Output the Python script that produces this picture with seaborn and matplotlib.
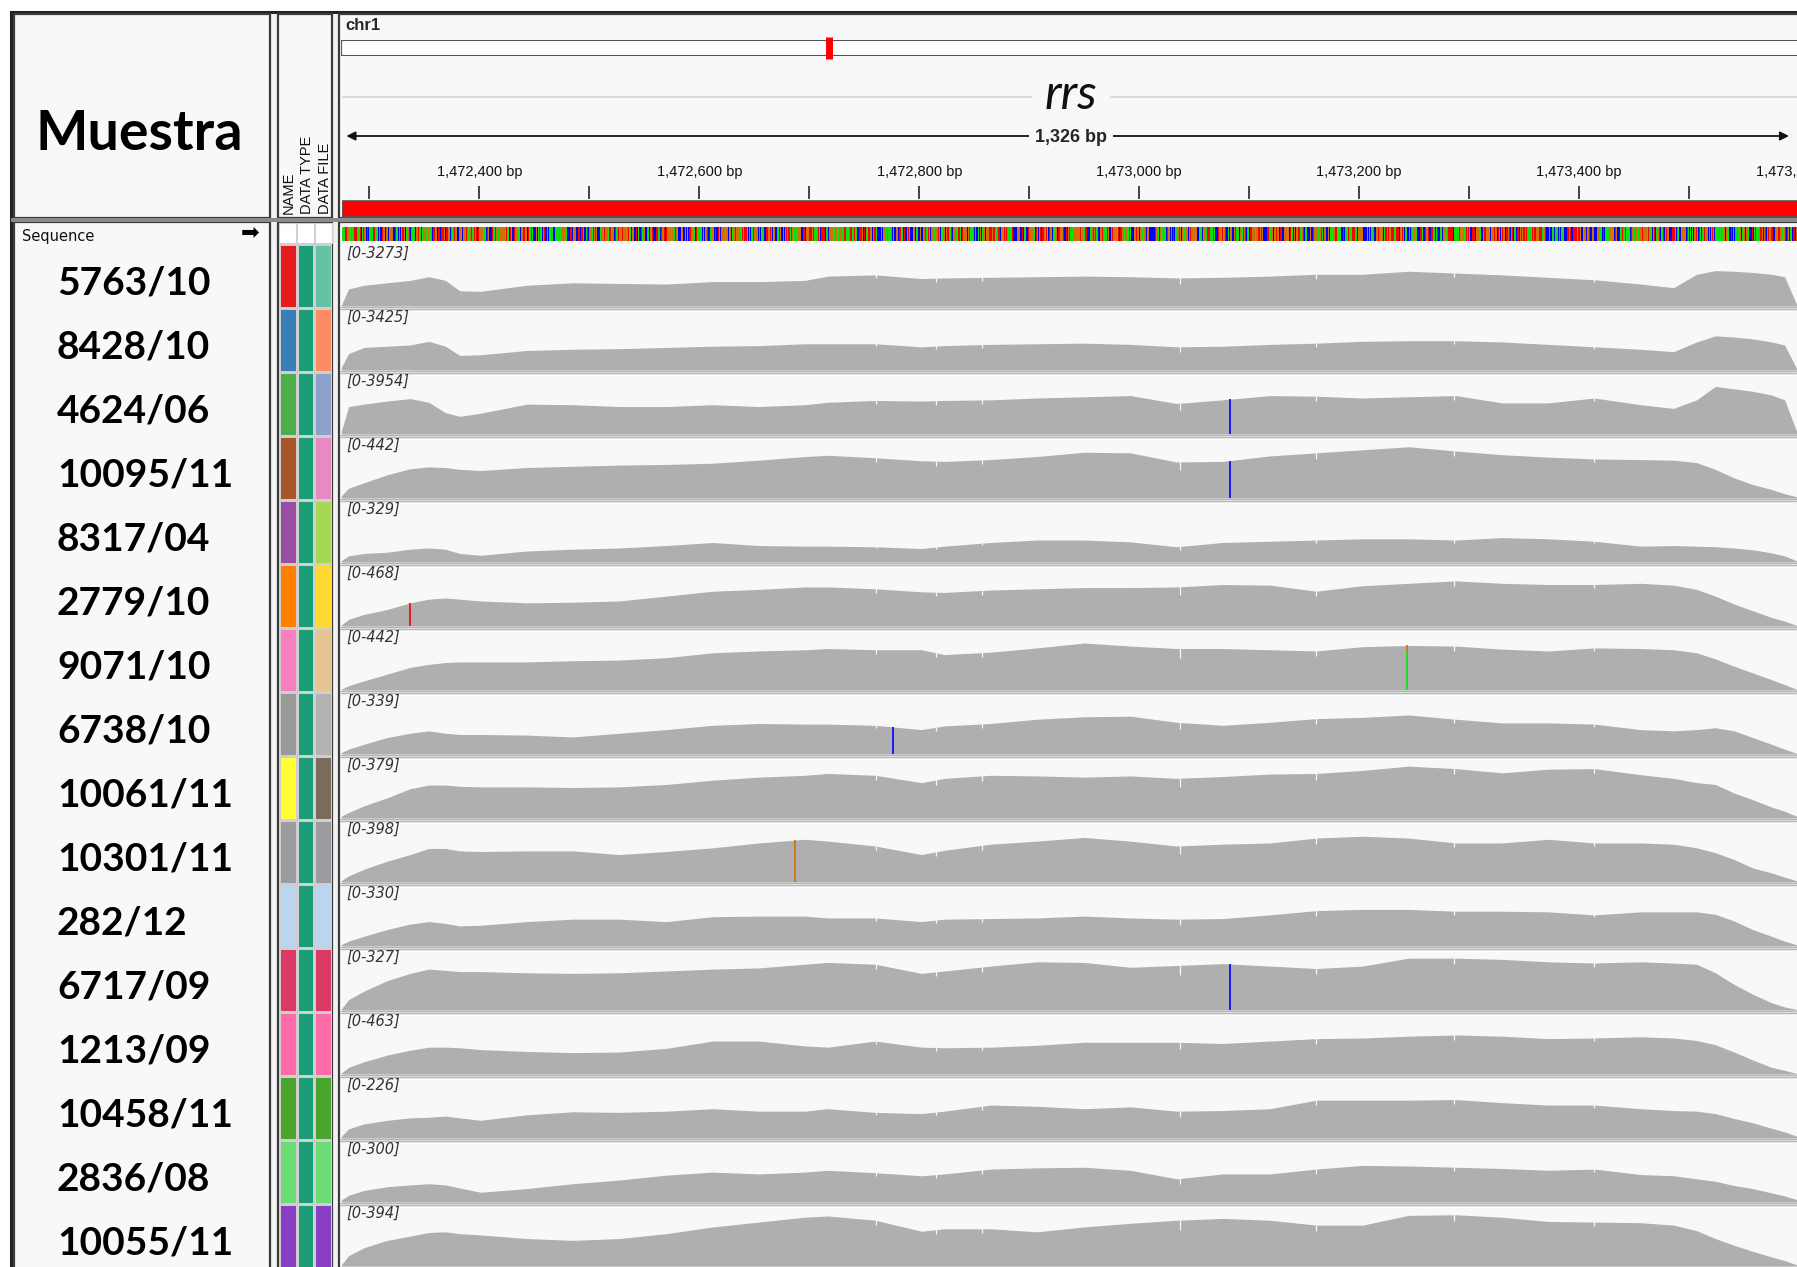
import numpy as np
import pandas as pd
import matplotlib
matplotlib.use("Agg")
import matplotlib.pyplot as plt
import seaborn as sns
from matplotlib.colors import ListedColormap
from matplotlib.patches import Rectangle

# ---------------- data ----------------
samples = ["5763/10", "8428/10", "4624/06", "10095/11", "8317/04", "2779/10",
           "9071/10", "6738/10", "10061/11", "10301/11", "282/12", "6717/09",
           "1213/09", "10458/11", "2836/08", "10055/11"]
data_ranges = [3273, 3425, 3954, 442, 329, 468, 442, 339, 379, 398, 330, 327,
               463, 226, 300, 394]
name_colors = ["#e41a1c", "#377eb8", "#4daf4a", "#a65628", "#984ea3", "#ff7f00",
               "#f781bf", "#999999", "#ffff33", "#9a9c9f", "#bcd5ee", "#dc3a66",
               "#ff6aa8", "#4aa32b", "#6bdc76", "#893fc4"]
type_colors = ["#1b9e77"] * 16
file_colors = ["#66c2a5", "#fc8d62", "#8da0cb", "#e78ac3", "#a6d854", "#ffd92f",
               "#e5c494", "#b3b3b3", "#7c6b5b", "#9a9c9f", "#bcd5ee", "#dc3a66",
               "#ff6aa8", "#4aa32b", "#6bdc76", "#893fc4"]

chrom = "chr1"
chrom_length = 4411532
view_start, view_end = 1472275, 1473601
gene_name = "rrs"
ruler_ticks = [1472300, 1472400, 1472500, 1472600, 1472700, 1472800, 1472900,
               1473000, 1473100, 1473200, 1473300, 1473400, 1473500]
ruler_labels = [1472400, 1472600, 1472800, 1473000, 1473200, 1473400, 1473600]

cov_bp = [1472274, 1472281, 1472295, 1472316, 1472337, 1472354, 1472369, 1472382,
          1472401, 1472443, 1472485, 1472527, 1472570, 1472612, 1472654, 1472696,
          1472717, 1472760, 1472802, 1472823, 1472865, 1472907, 1472950, 1472992,
          1473034, 1473076, 1473119, 1473161, 1473203, 1473245, 1473288, 1473330,
          1473372, 1473414, 1473456, 1473486, 1473507, 1473524, 1473541, 1473558,
          1473575, 1473587, 1473598]
# coverage, % of the track's autoscale range
cov_t01 = [0,28,34,38,42,48,42,25,24,34,38,37,36,40,40,42,49,51,45,46,47,48,49,48,46,47,49,52,52,57,54,51,47,43,36,30,52,58,57,55,52,48,2]
cov_t02 = [3,27,37,39,41,47,39,24,25,32,34,35,37,39,40,43,43,43,38,40,42,43,44,42,38,39,42,44,47,48,48,46,42,38,34,30,46,56,54,51,46,41,2]
cov_t03 = [2,45,49,54,58,52,35,29,34,49,48,45,45,48,45,48,52,55,54,55,56,59,61,63,50,56,63,62,59,61,63,51,51,59,48,42,56,78,74,70,64,56,4]
cov_t04 = [3,16,25,38,48,51,50,47,45,50,52,54,55,57,62,68,70,66,61,60,63,68,75,74,59,60,69,74,79,84,77,71,67,64,63,62,58,47,33,22,14,7,2]
cov_t05 = [2,10,14,16,21,23,21,14,11,18,21,23,27,32,27,26,26,25,22,26,32,36,36,33,25,32,34,36,38,38,36,40,38,34,26,27,26,25,23,20,15,10,2]
cov_t06 = [1,11,19,27,38,44,46,44,41,38,39,41,49,57,60,64,64,61,56,55,59,61,63,63,64,68,67,57,66,70,74,70,68,68,70,67,60,49,36,25,14,8,1]
cov_t07 = [1,7,15,26,37,42,45,46,46,46,48,49,53,61,64,66,68,66,66,58,62,69,77,72,68,68,66,64,71,73,72,67,64,69,68,66,61,51,39,28,17,9,1]
cov_t08 = [2,8,16,27,34,38,34,32,32,31,28,34,40,47,50,49,49,47,40,46,50,57,61,62,52,47,52,58,60,64,57,51,51,49,40,38,40,43,38,27,16,8,1]
cov_t09 = [3,9,20,33,48,54,54,52,51,51,50,51,55,62,67,70,73,70,58,65,70,69,67,69,65,68,72,73,78,85,81,74,80,81,71,65,58,55,41,30,18,11,3]
cov_t10 = [2,10,21,34,45,55,55,51,50,51,51,45,50,56,64,70,67,59,45,52,62,67,73,67,59,62,64,72,75,72,64,64,70,64,64,62,56,48,37,23,15,8,2]
cov_t11 = [2,8,16,27,36,40,37,33,34,40,44,44,40,48,49,49,46,46,40,44,45,46,49,46,44,45,51,58,60,60,57,57,56,51,56,56,56,52,41,27,16,8,2]
cov_t12 = [1,17,31,48,60,67,65,63,63,61,60,61,64,67,69,75,78,75,60,64,72,79,78,70,73,76,72,68,72,85,85,83,79,77,79,77,75,61,42,26,12,5,1]
cov_t13 = [1,11,20,31,39,44,44,43,40,37,35,36,42,54,54,46,44,54,44,43,44,47,52,52,52,50,54,58,59,62,64,62,58,59,61,59,55,48,36,23,11,6,1]
cov_t14 = [2,15,23,29,33,34,36,33,29,38,43,42,44,48,44,44,48,42,40,44,54,52,48,51,44,45,48,62,62,62,63,58,54,54,48,45,44,40,32,25,16,10,3]
cov_t15 = [3,11,19,25,28,30,28,23,16,22,30,36,44,49,46,49,52,48,43,46,54,56,57,52,38,46,46,54,60,59,57,55,52,54,45,43,38,34,27,22,15,10,4]
cov_t16 = [1,17,30,42,49,55,56,53,51,45,42,45,53,64,72,80,82,75,57,61,61,56,64,70,75,78,75,67,67,83,84,80,73,72,71,67,58,45,34,24,15,9,2]
coverage_tracks = [cov_t01, cov_t02, cov_t03, cov_t04, cov_t05, cov_t06, cov_t07, cov_t08,
                   cov_t09, cov_t10, cov_t11, cov_t12, cov_t13, cov_t14, cov_t15, cov_t16]

# thin low-quality notches seen in most tracks
dip_bp = [1472761, 1472815, 1472857, 1473037, 1473161, 1473286, 1473414]
dip_depth = [0.10, 0.12, 0.12, 0.22, 0.14, 0.12, 0.08]

# mismatches (track index, position, base, fraction of that base)
variant_track = [2, 3, 5, 6, 7, 9, 11]
variant_bp = [1473083, 1473083, 1472337, 1473244, 1472776, 1472687, 1473083]
variant_base = ["C", "C", "T", "A", "C", "G", "C"]
variant_frac = [1.0, 1.0, 1.0, 0.85, 1.0, 1.0, 1.0]
variant_other = ["C", "C", "T", "G", "C", "G", "C"]

sequence = ("AAATTGAAGAGTTTGATCATGGCTCAGATTGAACGCTGGCGGCAGGCCTAACACATGCAAGTCGAACGGTAACAGGAAGAAGCTTGCTTCTTTGCTGACGAGTGGCGGACGGGTGAGTAATGTCTGGGAAACTGCCTGATGGAGGGGGATAACTACTGGAAACGGTAGCTAATACCGCATAACGTCGCAAGACCAAAGAGGGGGACCTTCGGGCCTCTTGCCATCGGATGTGCCCAGATGGGATTAGCTAGTAGGTGGGGTAACGGCTCACCTAGGCGACGATCCCTAGCTGGTCTGAGAGGATGACCAGCCACACTGGAACTGAGACACGGTCCAGACTCCTACGGGAGGCAGCAGTGGGGAATATTGCACAATGGGCGCAAGCCTGATGCAGCCATGCCGCGTGTATGAAGAAGGCCTTCGGGTTGTAAAGTACTTTCAGCGGGGAGGAAGGGAGTAAAGTTAATACCTTTGCTCATTGACGTTACCCGCAGAAGAAGCACCGGCTAACTCCGTGCCAGCAGCCGCGGTAATACGGAGGGTGCAAGCGTTAATCGGAATTACTGGGCGTAAAGCGCACGCAGGCGGTTTGTTAAGTCAGATGTGAAATCCCCGGGCTCAACCTGGGAACTGCATCTGATACTGGCAAGCTTGAGTCTCGTAGAGGGGGGTAGAATTCCAGGTGTAGCGGTGAAATGCGTAGAGATCTGGAGGAATACCGGTGGCGAAGGCGGCCCCCTGGACGAAGACTGACGCTCAGGTGCGAAAGCGTGGGGAGCAAACAGGATTAGATACCCTGGTAGTCCACGCCGTAAACGATGTCGACTTGGAGGTTGTGCCCTTGAGGCGTGGCTTCCGGAGCTAACGCGTTAAGTCGACCGCCTGGGGAGTACGGCCGCAAGGTTAAAACTCAAATGAATTGACGGGGGCCCGCACAAGCGGTGGAGCATGTGGTTTAATTCGATGCAACGCGAAGAACCTTACCTGGTCTTGACATCCACGGAAGTTTTCAGAGATGAGAATGTGCCTTCGGGAACCGTGAGACAGGTGCTGCATGGCTGTCGTCAGCTCGTGTTGTGAAATGTTGGGTTAAGTCCCGCAACGAGCGCAACCCTTATCCTTTGTTGCCAGCGGTCCGGCCGGGAACTCAAAGGAGACTGCCAGTGATAAACTGGAGGAAGGTGGGGATGACGTCAAGTCATCATGGCCCTTACGACCAGGGCTACACACGTGCTACAATGGCGCATACAAAGAGAAGCGACCTCGCGAGAGCAAGCGGACCTCATAAAGTGCGTCGTAGTCCGGATTGGAGTCTGCAACTCGACTCCATGAAGTCGGAATCGCTAGTAATCGTGGATCAGAATGCCACGGTGAATACGTTCCCGGGCCTTGTACACACCGCCCGTCACACCATGGGAGTGGGTTGCAAAAGAAGTAGGTAGCTTAACCTTCGGGAGGGCGCTTACCACTTTGTGATTCATGACTGGGGTGAAGTCGTAACAAGGTAACCGTAGGGGAACCTGCGGTTGGATCACCTCCTTA")

base_colors = {"A": "#10e010", "C": "#0000ff", "G": "#d17105", "T": "#ff0000"}

# ---------------- layout helpers ----------------
W, H = 1797, 1267
sns.set_theme(style="white")
plt.rcParams["font.family"] = ["DejaVu Sans"]

fig = plt.figure(figsize=(W / 100, H / 100), dpi=100)
fig.patch.set_facecolor("white")

def px_axes(x0, y0, x1, y1):
    return fig.add_axes([x0 / W, 1 - y1 / H, (x1 - x0) / W, (y1 - y0) / H])

PANEL = "#f8f8f8"
EDGE = "#3a3a3a"
DX0, DX1 = 342, 1800          # data panel pixel span for view_start..view_end
TRACK_TOP0, TRACK_H = 244, 64

bg = fig.add_axes([0, 0, 1, 1])
bg.set_xlim(0, W)
bg.set_ylim(H, 0)
bg.axis("off")

# frames
bg.add_patch(Rectangle((11, 12), W, H, facecolor="#f2f2f2", edgecolor="#222222", lw=2.2))
for (x0, y0, x1, y1) in [(14, 14, 270, 218), (278, 14, 332, 218), (339, 14, W + 3, 218),
                         (14, 222, 270, H + 3), (278, 222, 332, H + 3), (339, 222, W + 3, H + 3)]:
    bg.add_patch(Rectangle((x0, y0), x1 - x0, y1 - y0, facecolor=PANEL, edgecolor=EDGE, lw=1.6))
bg.add_patch(Rectangle((11, 218), W, 4, facecolor="#8a8a8a", edgecolor="none"))

# header texts
bg.text(139, 134, "Muestra", fontsize=40, fontweight="bold", family=["Lato", "DejaVu Sans"],
        ha="center", va="center", color="black")
for x, lab in zip([289, 307, 325], ["NAME", "DATA TYPE", "DATA FILE"]):
    bg.text(x, 214, lab, rotation=90, ha="center", va="bottom", fontsize=10.5,
            family=["Liberation Sans", "DejaVu Sans"], color="#111111")
bg.text(345, 26, chrom, fontsize=12, fontweight="bold", family=["Liberation Sans", "DejaVu Sans"],
        ha="left", va="center")

# chromosome ideogram
ideo = px_axes(341, 40, 1802, 56)
ideo.set_xlim(0, chrom_length)
ideo.set_ylim(0, 1)
ideo.axis("off")
ideo.add_patch(Rectangle((0, 0), chrom_length, 1, facecolor="white", edgecolor="#555555", lw=1.5))
ideo.vlines((view_start + view_end) / 2, -0.2, 1.2, colors="#ff0000", lw=5, clip_on=False)

# ruler / gene header in bp x pixel-row coordinates
ruler = px_axes(DX0, 14, DX1, 218)
ruler.set_xlim(view_start, view_end)
ruler.set_ylim(218, 14)
ruler.axis("off")
ruler.hlines(97, view_start, view_end, colors="#d4d4d4", lw=1.2)
mid = (view_start + view_end) / 2
ruler.text(mid, 95, gene_name, fontsize=35, style="italic", family=["Lato", "DejaVu Sans"],
           ha="center", va="center", color="#111111",
           bbox=dict(boxstyle="square,pad=0.25", facecolor=PANEL, edgecolor="none"))
ruler.annotate("", xy=(view_end - 10, 136), xytext=(view_start + 4, 136),
               arrowprops=dict(arrowstyle="<|-|>", color="#111111", lw=1.3,
                               mutation_scale=13, shrinkA=0, shrinkB=0))
ruler.text(mid, 137, f"{view_end - view_start:,} bp", fontsize=13, fontweight="bold",
           family=["Liberation Sans", "DejaVu Sans"], ha="center", va="center",
           bbox=dict(boxstyle="square,pad=0.35", facecolor=PANEL, edgecolor="none"))
ruler.vlines(ruler_ticks, 186, 199, colors="#111111", lw=1.1)
for v in ruler_labels:
    ruler.text(v, 172, f"{v:,} bp", fontsize=10.5, family=["Liberation Sans", "DejaVu Sans"],
               ha="center", va="center", color="#111111", clip_on=False)
ruler.add_patch(Rectangle((view_start, 201), view_end - view_start, 16,
                          facecolor="#ff0000", edgecolor="#555555", lw=1.2))

# sequence track (seaborn heatmap, one cell per base)
n_seq = min(len(sequence), view_end - view_start)
seq_codes = pd.DataFrame([["ACGT".index(b) for b in sequence[:n_seq]]])
seq_ax = px_axes(DX0, 227, DX0 + (DX1 - DX0) * n_seq / (view_end - view_start), 241)
sns.heatmap(seq_codes, ax=seq_ax, cmap=ListedColormap([base_colors[b] for b in "ACGT"]),
            vmin=-0.5, vmax=3.5, cbar=False, xticklabels=False, yticklabels=False)

# names panel
bg.text(22, 236, "Sequence", fontsize=10.5, ha="left", va="center", color="#111111")
bg.text(250, 233, "\u27a1", fontsize=16, ha="center", va="center", color="black")

# attribute panel (seaborn heatmap)
for x0 in [279, 297, 315]:
    bg.add_patch(Rectangle((x0, 223), 17, 20, facecolor="white", edgecolor="#d0d0d0", lw=0.8))
attr_cols = [name_colors, type_colors, file_colors]
palette = list(dict.fromkeys(name_colors + type_colors + file_colors))
attr_df = pd.DataFrame({c: [palette.index(v) for v in col]
                        for c, col in zip(["NAME", "DATA TYPE", "DATA FILE"], attr_cols)})
attr_ax = px_axes(279, TRACK_TOP0, 332, TRACK_TOP0 + TRACK_H * len(samples))
sns.heatmap(attr_df, ax=attr_ax, cmap=ListedColormap(palette), vmin=-0.5,
            vmax=len(palette) - 0.5, cbar=False, xticklabels=False, yticklabels=False,
            linewidths=0.8, linecolor="#cfcfcf")

# coverage tracks
for i, (name, rng, cov) in enumerate(zip(samples, data_ranges, coverage_tracks)):
    top = TRACK_TOP0 + TRACK_H * i
    bg.text(57, top + 39, name, fontsize=28, fontweight="bold", family=["Lato", "DejaVu Sans"],
            ha="left", va="center", color="black")
    bg.hlines([top + 63, top + 65], 340, W + 3, colors="#b5b5b5", lw=1.0)
    bg.text(346, top + 9, f"[0-{rng}]", fontsize=10.5, style="italic", ha="left", va="center",
            color="#333333")

    ax = px_axes(DX0, top + 1, DX1, top + 62)
    ax.set_xlim(view_start, view_end)
    ax.set_ylim(0, 100)
    ax.axis("off")
    ax.patch.set_alpha(0)
    ax.fill_between(cov_bp, 0, cov, color="#afafaf", lw=0)
    cv = np.interp(dip_bp, cov_bp, cov)
    ax.vlines(dip_bp, cv * (1 - np.array(dip_depth)), cv + 1, colors=PANEL, lw=0.9)
    for t, p, b, f, o in zip(variant_track, variant_bp, variant_base, variant_frac, variant_other):
        if t == i:
            h = float(np.interp(p, cov_bp, cov))
            ax.vlines(p, 0, h * f, colors=base_colors[b], lw=1.2)
            if f < 1:
                ax.vlines(p, h * f, h, colors=base_colors[o], lw=1.2)

fig.savefig("out.png", dpi=100, facecolor="white")
